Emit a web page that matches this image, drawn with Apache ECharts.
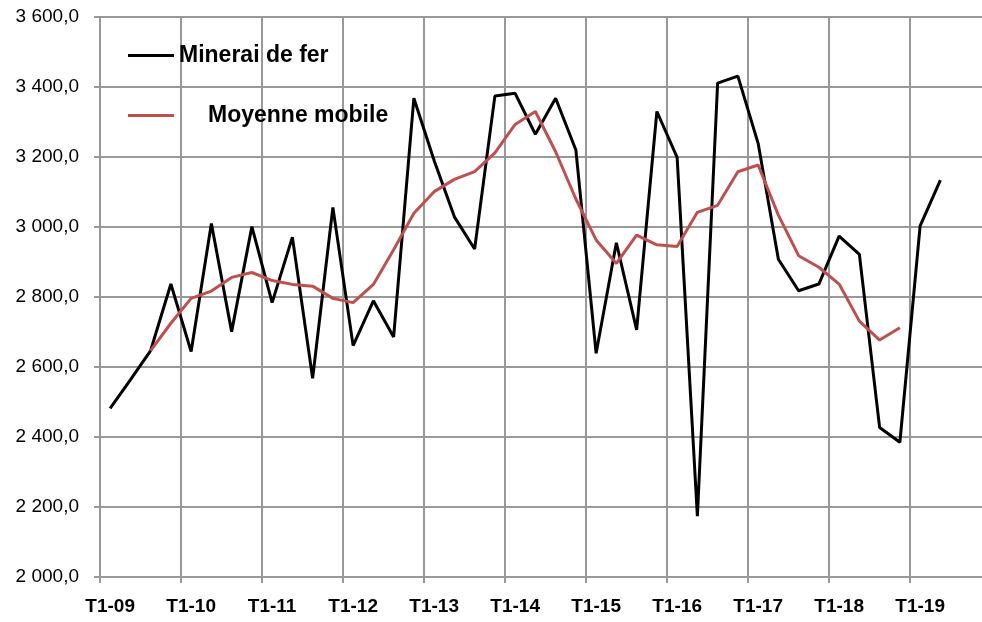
<!DOCTYPE html>
<html>
<head>
<meta charset="utf-8">
<script src="https://cdn.jsdelivr.net/npm/echarts@6/dist/echarts.min.js"></script>
<style>
html,body{margin:0;padding:0;background:#fff;overflow:hidden;}
#chart{width:1000px;height:622px;}
</style>
</head>
<body>
<div id="chart"></div>
<script>
const categories = [
  'T1-09','T2-09','T3-09','T4-09','T1-10','T2-10','T3-10','T4-10',
  'T1-11','T2-11','T3-11','T4-11','T1-12','T2-12','T3-12','T4-12',
  'T1-13','T2-13','T3-13','T4-13','T1-14','T2-14','T3-14','T4-14',
  'T1-15','T2-15','T3-15','T4-15','T1-16','T2-16','T3-16','T4-16',
  'T1-17','T2-17','T3-17','T4-17','T1-18','T2-18','T3-18','T4-18',
  'T1-19','T2-19','T3-19','T4-19'
];
const ironOre = [
  2482, 2563, 2647, 2837, 2644, 3010, 2701, 3001, 2784, 2971,
  2568, 3056, 2661, 2789, 2686, 3368, 3190, 3029, 2937, 3374,
  3382, 3265, 3368, 3220, 2639, 2955, 2706, 3330, 3199, 2174,
  3411, 3431, 3239, 2908, 2818, 2837, 2974, 2922, 2427, 2385,
  3003, 3134
];
const movingAvg = [
  null, null, 2647, 2725, 2796, 2817, 2856, 2870, 2847, 2836,
  2831, 2796, 2784, 2836, 2935, 3039, 3101, 3136, 3158, 3212,
  3293, 3330, 3215, 3080, 2963, 2896, 2977, 2949, 2944, 3042,
  3062, 3158, 3177, 3034, 2918, 2885, 2837, 2731, 2677, 2712
];
const seriesNames = ['Minerai de fer', 'Moyenne mobile'];
const yMin = 2000, yMax = 3600, yStep = 200;

const FONT = '"Liberation Sans", Arial, sans-serif';
const GRID = '#999999';

function fmt(v) {
  const s = String(Math.round(v));
  const t = s.replace(/\B(?=(\d{3})+(?!\d))/g, ' ');
  return t + ',0';
}

const chart = echarts.init(document.getElementById('chart'));
chart.setOption({
  animation: false,
  backgroundColor: '#fff',
  grid: { left: 100, top: 17, width: 891, height: 560, containLabel: false },
  legend: [
    {
      data: [seriesNames[0]], left: 123, top: 39, itemWidth: 46, itemHeight: 3, icon: 'rect',
      textStyle: { fontFamily: FONT, fontSize: 23, fontWeight: 'bold', color: '#000' }
    },
    {
      data: [seriesNames[1]], left: 123, top: 99, itemWidth: 46, itemHeight: 3, icon: 'rect',
      textStyle: { fontFamily: FONT, fontSize: 23, fontWeight: 'bold', color: '#000', padding: [0, 0, 0, 29] }
    }
  ],
  xAxis: {
    type: 'category',
    data: categories,
    boundaryGap: true,
    axisLine: { show: true, lineStyle: { color: GRID, width: 2 } },
    axisTick: { show: true, interval: 3, length: 6, lineStyle: { color: GRID, width: 2 } },
    axisLabel: { interval: 3, margin: 20, fontFamily: FONT, fontSize: 19, fontWeight: 'bold', color: '#000' },
    splitLine: { show: true, interval: 3, lineStyle: { color: GRID, width: 2 } }
  },
  yAxis: {
    type: 'value',
    min: yMin, max: yMax, interval: yStep,
    axisLine: { show: true, lineStyle: { color: GRID, width: 2 } },
    axisTick: { show: true, length: 6, lineStyle: { color: GRID, width: 2 } },
    axisLabel: { margin: 21, fontFamily: FONT, fontSize: 19, color: '#000', formatter: fmt },
    splitLine: { show: true, lineStyle: { color: GRID, width: 2 } }
  },
  series: [
    {
      name: seriesNames[0], type: 'line', data: ironOre, symbol: 'none',
      lineStyle: { color: '#000', width: 3 }, itemStyle: { color: '#000' }, z: 3
    },
    {
      name: seriesNames[1], type: 'line', data: movingAvg, symbol: 'none',
      lineStyle: { color: '#C0504D', width: 3 }, itemStyle: { color: '#C0504D' }, z: 4
    }
  ]
});
</script>
</body>
</html>
